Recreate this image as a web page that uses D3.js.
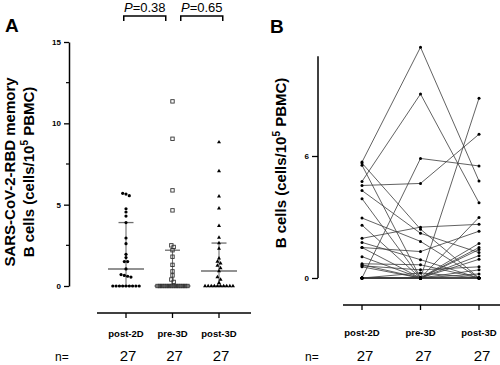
<!DOCTYPE html>
<html><head><meta charset="utf-8">
<script src="https://cdn.jsdelivr.net/npm/d3@7"></script>
<style>
html,body{margin:0;padding:0;background:#fff;}
svg{display:block;}
text{font-family:"Liberation Sans",Arial,sans-serif;}
</style></head>
<body>
<svg id="chart" width="500" height="365"></svg>
<script>
// ---------- data ----------
const categories = ["post-2D", "pre-3D", "post-3D"];
// per-subject values (same subject order in every array)
const post2D = [5.7, 5.65, 5.55, 4.75, 4.55, 4.3, 3.9, 2.95, 2.6, 1.95, 1.75, 1.5, 1.5, 1.05, 0.7, 0.65, 0.6, 0.55, 0, 0, 0, 0, 0, 0, 0, 0, 0];
const pre3D  = [11.35, 2.4, 0, 9.05, 4.65, 2.2, 0, 1.8, 0, 2.5, 0.9, 0, 1.3, 0, 0.65, 0, 0.4, 0, 5.88, 0, 0.25, 0, 0, 0, 0, 0, 0];
const post3D = [4.77, 0, 1.5, 3.7, 7.07, 1.25, 2.98, 0, 1.4, 2.64, 0, 1.1, 2.3, 0.92, 0, 1.7, 0.55, 0.4, 5.51, 8.84, 0, 0.2, 0, 0, 0, 0, 0];
const nCounts = ["27", "27", "27"];
const yTicksA = [0, 5, 10, 15];
const yMinorA = [2.5, 7.5, 12.5];
const yTicksB = [0, 6];
const pValues = ["0.38", "0.65"];
const pPairs = [[0, 1], [1, 2]];

const groups = [post2D, pre3D, post3D];

// ---------- setup ----------
const svg = d3.select("#chart");
svg.append("rect").attr("width", 500).attr("height", 365).attr("fill", "#fff");
const FONT = '"Liberation Sans",Arial,sans-serif';

// GraphPad-style quantile (position p*(n+1))
function gpQuantile(arr, p) {
  const s = arr.slice().sort((a, b) => a - b);
  const n = s.length;
  let pos = p * (n + 1);
  if (pos <= 1) return s[0];
  if (pos >= n) return s[n - 1];
  const lo = Math.floor(pos), fr = pos - lo;
  return s[lo - 1] + fr * (s[lo] - s[lo - 1]);
}

// ================= Panel A =================
const yA = d3.scaleLinear().domain([0, 15]).range([286, 42]);
const xA = d3.scalePoint().domain(categories).range([126, 219]);

// y axis
const axA = svg.append("g").attr("transform", "translate(69,0)")
  .call(d3.axisLeft(yA).tickValues(yTicksA).tickFormat(d3.format("d")).tickSize(5).tickSizeOuter(0).tickPadding(3));
axA.select(".domain").attr("stroke", "#000").attr("stroke-width", 1.5);
axA.selectAll(".tick line").attr("stroke", "#000").attr("stroke-width", 1.3);
axA.selectAll(".tick text").attr("font-family", FONT).attr("font-weight", "bold").attr("font-size", 8).attr("fill", "#000");
svg.append("g").selectAll("line").data(yMinorA).join("line")
  .attr("x1", 66).attr("x2", 69).attr("y1", d => yA(d)).attr("y2", d => yA(d))
  .attr("stroke", "#000").attr("stroke-width", 1.2);

// x axis (panel A)
svg.append("line").attr("x1", 97).attr("x2", 251).attr("y1", 313).attr("y2", 313)
  .attr("stroke", "#000").attr("stroke-width", 1.6);
svg.append("g").selectAll("line").data(categories).join("line")
  .attr("x1", d => xA(d)).attr("x2", d => xA(d)).attr("y1", 313).attr("y2", 318)
  .attr("stroke", "#000").attr("stroke-width", 1.3);
svg.append("g").selectAll("text").data(categories).join("text")
  .attr("x", d => xA(d)).attr("y", 337).attr("text-anchor", "middle")
  .attr("font-weight", "bold").attr("font-size", 9.5).text(d => d);

// IQR + median
const medW = 18, capW = 7.5;
groups.forEach((vals, gi) => {
  const cx = xA(categories[gi]);
  const med = gpQuantile(vals, 0.5), q1 = gpQuantile(vals, 0.25), q3 = gpQuantile(vals, 0.75);
  const g = svg.append("g").attr("stroke", "#6e6e6e");
  g.append("line").attr("x1", cx).attr("x2", cx).attr("y1", yA(q1)).attr("y2", yA(q3)).attr("stroke-width", 1.1);
  g.append("line").attr("x1", cx - capW).attr("x2", cx + capW).attr("y1", yA(q3)).attr("y2", yA(q3)).attr("stroke-width", 1.3);
  g.append("line").attr("x1", cx - capW).attr("x2", cx + capW).attr("y1", yA(q1)).attr("y2", yA(q1)).attr("stroke-width", 1.3);
  g.append("line").attr("x1", cx - medW).attr("x2", cx + medW).attr("y1", yA(med)).attr("y2", yA(med)).attr("stroke-width", 1.5);
});

// scatter (row based spread)
const spacing = [3.3, 2.3, 3.1];
groups.forEach((vals, gi) => {
  const cx = xA(categories[gi]);
  const sorted = vals.map(v => ({v, y: yA(v)})).sort((a, b) => b.v - a.v);
  const rows = [];
  sorted.forEach(p => {
    const last = rows[rows.length - 1];
    if (last && Math.abs(p.y - last[0].y) < 2.5) last.push(p); else rows.push([p]);
  });
  const pts = [];
  rows.forEach(r => r.forEach((p, i) => pts.push({x: cx + (i - (r.length - 1) / 2) * spacing[gi], y: p.y})));
  const g = svg.append("g");
  if (gi === 0) {
    g.selectAll("circle").data(pts).join("circle")
      .attr("cx", d => d.x).attr("cy", d => d.y).attr("r", 1.6).attr("fill", "#000");
  } else if (gi === 1) {
    g.selectAll("rect").data(pts).join("rect")
      .attr("x", d => d.x - 1.7).attr("y", d => d.y - 1.7).attr("width", 3.4).attr("height", 3.4)
      .attr("fill", "none").attr("stroke", "#333").attr("stroke-width", 0.9);
  } else {
    const tri = d3.symbol().type(d3.symbolTriangle).size(7);
    g.selectAll("path").data(pts).join("path")
      .attr("transform", d => `translate(${d.x},${d.y})`).attr("d", tri).attr("fill", "#000");
  }
});

// p-value brackets
const bracketShift = [-4.5, 6];
pPairs.forEach((pr, i) => {
  const mid = (xA(categories[pr[0]]) + xA(categories[pr[1]])) / 2 + bracketShift[i];
  const x1 = mid - 21, x2 = mid + 21;
  svg.append("path").attr("d", `M${x1},21V16H${x2}V21`).attr("fill", "none")
    .attr("stroke", "#000").attr("stroke-width", 1.5);
  const t = svg.append("text").attr("x", mid).attr("y", 12).attr("text-anchor", "middle")
    .attr("font-size", 13).attr("fill", "#000");
  t.append("tspan").attr("font-style", "italic").text("P");
  t.append("tspan").text("=" + pValues[i]);
});

// y label A
const labA = svg.append("text").attr("transform", "translate(15,172) rotate(-90)")
  .attr("text-anchor", "middle").attr("font-weight", "bold").attr("font-size", 15);
labA.text("SARS-CoV-2-RBD memory");
const labA2 = svg.append("text").attr("transform", "translate(34,172) rotate(-90)")
  .attr("text-anchor", "middle").attr("font-weight", "bold").attr("font-size", 15);
labA2.append("tspan").text("B cells (cells/10");
labA2.append("tspan").attr("font-size", 10).attr("dy", -6).text("5");
labA2.append("tspan").attr("dy", 6).text(" PBMC)");

// panel letters
svg.append("text").attr("x", 5).attr("y", 32).attr("font-weight", "bold").attr("font-size", 19).text("A");
svg.append("text").attr("x", 270).attr("y", 33).attr("font-weight", "bold").attr("font-size", 19).text("B");

// n labels
svg.append("text").attr("x", 55).attr("y", 361).attr("font-size", 12).text("n=");
svg.append("text").attr("x", 305).attr("y", 361).attr("font-size", 12).text("n=");

// ================= Panel B =================
const yB = d3.scaleLinear().domain([0, 6]).range([278, 156]);
const xB = d3.scalePoint().domain(categories).range([362, 479]);

const axB = svg.append("g").attr("transform", "translate(318,0)")
  .call(d3.axisLeft(yB).tickValues(yTicksB).tickFormat(d3.format("d")).tickSize(6).tickSizeOuter(0).tickPadding(3));
axB.select(".domain").remove();
svg.append("line").attr("x1", 318).attr("x2", 318).attr("y1", yB(0)).attr("y2", yB(10.9))
  .attr("stroke", "#000").attr("stroke-width", 1.5);
axB.selectAll(".tick line").attr("stroke", "#000").attr("stroke-width", 1.3);
axB.selectAll(".tick text").attr("font-family", FONT).attr("font-weight", "bold").attr("font-size", 8).attr("fill", "#000");

svg.append("line").attr("x1", 343).attr("x2", 500).attr("y1", 305).attr("y2", 305)
  .attr("stroke", "#000").attr("stroke-width", 1.6);
svg.append("g").selectAll("line").data(categories).join("line")
  .attr("x1", d => xB(d)).attr("x2", d => xB(d)).attr("y1", 305).attr("y2", 310)
  .attr("stroke", "#000").attr("stroke-width", 1.3);
svg.append("g").selectAll("text").data(categories).join("text")
  .attr("x", d => xB(d)).attr("y", 336).attr("text-anchor", "middle")
  .attr("font-weight", "bold").attr("font-size", 9.5).text(d => d);

// subject lines
const subjects = post2D.map((v, i) => [v, pre3D[i], post3D[i]]);
const line = d3.line().x((d, i) => xB(categories[i])).y(d => yB(d));
svg.append("g").selectAll("path").data(subjects).join("path")
  .attr("d", line).attr("fill", "none").attr("stroke", "#3a3a3a").attr("stroke-width", 0.8);
svg.append("g").selectAll("g").data(subjects).join("g")
  .selectAll("circle").data(d => d).join("circle")
  .attr("cx", (d, i) => xB(categories[i])).attr("cy", d => yB(d)).attr("r", 1.5).attr("fill", "#000");

const labB = svg.append("text").attr("transform", "translate(286,163) rotate(-90)")
  .attr("text-anchor", "middle").attr("font-weight", "bold").attr("font-size", 15);
labB.append("tspan").text("B cells (cells/10");
labB.append("tspan").attr("font-size", 10).attr("dy", -6).text("5");
labB.append("tspan").attr("dy", 6).text(" PBMC)");

// n counts
svg.append("g").selectAll("text").data(categories).join("text")
  .attr("x", d => xA(d) + 2).attr("y", 361).attr("text-anchor", "middle").attr("font-size", 15).text((d, i) => nCounts[i]);
svg.append("g").selectAll("text").data(categories).join("text")
  .attr("x", d => xB(d) + 3).attr("y", 361).attr("text-anchor", "middle").attr("font-size", 15).text((d, i) => nCounts[i]);
</script>
</body></html>
